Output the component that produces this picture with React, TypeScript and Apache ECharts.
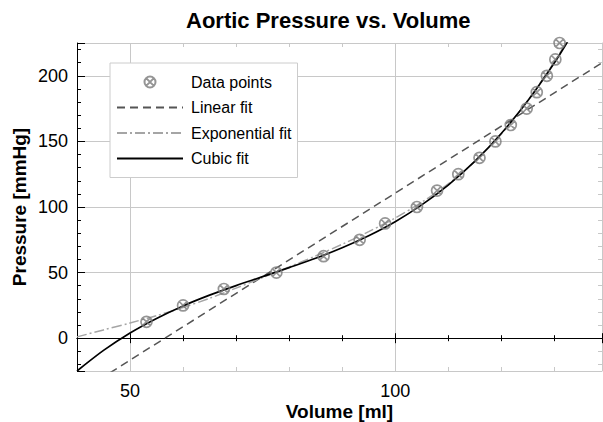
import { useEffect, useRef } from 'react';
import * as echarts from 'echarts';

// Measured data points (Volume [ml], Pressure [mmHg])
const volume = [53.1, 60.0, 67.7, 77.6, 86.5, 93.3, 98.1, 104.1, 107.9, 111.9, 115.9, 118.9, 121.8, 124.8, 126.7, 128.6, 130.2, 131.0];
const pressure = [12.5, 25, 37.5, 50, 62.5, 75, 87.5, 100, 112.5, 125, 137.5, 150, 162.5, 175, 187.5, 200, 212.5, 225];

// Linear fit (at the axis ends)
const linearVolume = [40, 139];
const linearPressure = [-42.2, 209.9];

// Fitted curves
const fitVolume = [40, 45, 50, 55, 60, 65, 70, 75, 80, 85, 90, 95, 100, 105, 110, 115, 120, 125, 130, 132.5];
const exponentialPressure = [1, 6.3, 11.6, 17.2, 23.4, 30.4, 38.2, 46.2, 54.3, 62.7, 71.6, 81.2, 91.6, 103.6, 117.6, 134.6, 155.5, 181, 210.5, 227];
const cubicPressure = [-25, -9.3, 4, 15.1, 24.6, 32.8, 40.1, 46.9, 53.8, 60.9, 68.9, 78.1, 88.8, 101.6, 116.7, 134.7, 156, 180.9, 209.8, 226];

// Tick labels
const xTickLabels = [50, 100];
const yTickLabels = [0, 50, 100, 150, 200];

const seriesNames = ['Data points', 'Linear fit', 'Exponential fit', 'Cubic fit'];

const FONT = "'Liberation Sans', Arial, Helvetica, sans-serif";
const GRID_GRAY = '#c8c8c8';
const MARKER = 'path://M10,0A10,10,0,1,1,10,20A10,10,0,1,1,10,0ZM2.93,2.93L17.07,17.07M17.07,2.93L2.93,17.07';

const pairs = (xs: number[], ys: number[]) => xs.map((x, i) => [x, ys[i]]);

export default function App() {
  const ref = useRef<HTMLDivElement>(null);

  useEffect(() => {
    if (!ref.current) return;
    const chart = echarts.init(ref.current, null, { renderer: 'svg' });

    const xRange = { type: 'value' as const, min: 40, max: 139, splitNumber: 2 };
    const hiddenSymbol = { color: 'transparent', borderColor: 'transparent', borderWidth: 0, opacity: 0 };

    const option: any = {
      animation: false,
      backgroundColor: '#ffffff',
      textStyle: { fontFamily: FONT },
      title: {
        text: 'Aortic Pressure vs. Volume',
        left: 186,
        top: 9,
        padding: 0,
        textStyle: { fontSize: 22, fontWeight: 'bold', color: '#000', fontFamily: FONT },
      },
      grid: { left: 77, right: 1, top: 43, bottom: 51, outerBoundsMode: 'none', containLabel: false },
      legend: {
        orient: 'vertical',
        left: 110,
        top: 63,
        padding: [11, 6, 11, 6],
        itemWidth: 66,
        itemHeight: 11,
        itemGap: 9.5,
        selectedMode: false,
        backgroundColor: '#ffffff',
        borderColor: '#cccccc',
        borderWidth: 1,
        borderRadius: 0,
        textStyle: { fontSize: 16, color: '#000', fontFamily: FONT, padding: [0, 0, 0, 3] },
        data: [
          { name: seriesNames[0] },
          { name: seriesNames[1], itemStyle: hiddenSymbol },
          { name: seriesNames[2], itemStyle: hiddenSymbol },
          { name: seriesNames[3], itemStyle: hiddenSymbol },
        ],
      },
      xAxis: [
        {
          ...xRange,
          position: 'bottom',
          name: 'Volume [ml]',
          nameLocation: 'middle',
          nameGap: 31,
          nameMoveOverlap: false,
          nameTextStyle: { fontSize: 19, fontWeight: 'bold', color: '#000', fontFamily: FONT },
          axisLine: { show: false, onZero: false },
          axisTick: { show: false, inside: true },
          minorTick: { show: true, splitNumber: 5, length: 4, lineStyle: { color: GRID_GRAY } },
          axisLabel: {
            margin: 11,
            fontSize: 18,
            color: '#000',
            fontFamily: FONT,
            formatter: (v: number) => (xTickLabels.includes(v) ? String(v) : ''),
          },
          splitLine: { show: true, lineStyle: { color: GRID_GRAY, width: 1 } },
          minorSplitLine: { show: false },
        },
        {
          ...xRange,
          position: 'bottom',
          axisLine: { show: true, onZero: true, onZeroAxisIndex: 0, lineStyle: { color: '#000', width: 1 } },
          axisTick: { show: true, inside: true, length: 5, lineStyle: { color: '#000' } },
          minorTick: { show: true, splitNumber: 5, length: 3, lineStyle: { color: '#000' } },
          axisLabel: { show: false },
          splitLine: { show: false },
        },
        {
          ...xRange,
          position: 'bottom',
          axisLine: { show: true, onZero: true, onZeroAxisIndex: 0, lineStyle: { color: '#000', width: 1 } },
          axisTick: { show: true, inside: false, length: 5, lineStyle: { color: '#000' } },
          minorTick: { show: true, splitNumber: 5, length: 3, lineStyle: { color: '#000' } },
          axisLabel: { show: false },
          splitLine: { show: false },
        },
        {
          ...xRange,
          position: 'top',
          axisLine: { show: false, onZero: false },
          axisTick: { show: false, inside: true },
          minorTick: { show: true, splitNumber: 5, length: 4, lineStyle: { color: GRID_GRAY } },
          axisLabel: { show: false },
          splitLine: { show: false },
        },
      ],
      yAxis: [
        {
          type: 'value',
          min: -25,
          max: 225,
          splitNumber: 5,
          position: 'left',
          name: 'Pressure [mmHg]',
          nameLocation: 'middle',
          nameGap: 48,
          nameMoveOverlap: false,
          nameTextStyle: { fontSize: 19, fontWeight: 'bold', color: '#000', fontFamily: FONT },
          axisLine: { show: true, onZero: false, lineStyle: { color: '#000', width: 1 } },
          axisTick: { show: true, inside: true, length: 8, lineStyle: { color: '#000' } },
          minorTick: { show: true, splitNumber: 5, length: 4, lineStyle: { color: '#000' } },
          axisLabel: {
            margin: 9,
            fontSize: 18,
            color: '#000',
            fontFamily: FONT,
            formatter: (v: number) => (yTickLabels.includes(v) ? String(v) : ''),
          },
          splitLine: { show: true, lineStyle: { color: GRID_GRAY, width: 1 } },
        },
        {
          type: 'value',
          min: -25,
          max: 225,
          splitNumber: 5,
          position: 'right',
          axisLine: { show: true, onZero: false, lineStyle: { color: GRID_GRAY, width: 1 } },
          axisTick: { show: false, inside: true },
          minorTick: { show: true, splitNumber: 5, length: 4, lineStyle: { color: GRID_GRAY } },
          axisLabel: { show: false },
          splitLine: { show: false },
        },
      ],
      series: [
        {
          type: 'scatter',
          name: seriesNames[0],
          data: pairs(volume, pressure),
          symbol: MARKER,
          symbolSize: 11,
          symbolKeepAspect: true,
          itemStyle: { color: 'transparent', borderColor: '#7a7a7a', borderWidth: 1.7 },
          z: 5,
        },
        {
          type: 'line',
          name: seriesNames[1],
          data: pairs(linearVolume, linearPressure),
          symbol: 'none',
          clip: true,
          itemStyle: { color: '#555555' },
          lineStyle: { color: '#555555', width: 1.5, type: [8, 5] },
          z: 3,
        },
        {
          type: 'line',
          name: seriesNames[2],
          data: pairs(fitVolume, exponentialPressure),
          symbol: 'none',
          smooth: 0.3,
          clip: true,
          itemStyle: { color: '#a5a5a5' },
          lineStyle: { color: '#a5a5a5', width: 1.5, type: [10, 3, 2, 3] },
          z: 3,
        },
        {
          type: 'line',
          name: seriesNames[3],
          data: pairs(fitVolume, cubicPressure),
          symbol: 'none',
          smooth: 0.3,
          clip: true,
          itemStyle: { color: '#000000' },
          lineStyle: { color: '#000000', width: 1.7 },
          z: 4,
        },
      ],
    };

    chart.setOption(option);
    return () => chart.dispose();
  }, []);

  return (
    <div
      ref={ref}
      style={{ position: 'fixed', left: 0, top: 0, width: 603, height: 422, background: '#fff' }}
    />
  );
}
